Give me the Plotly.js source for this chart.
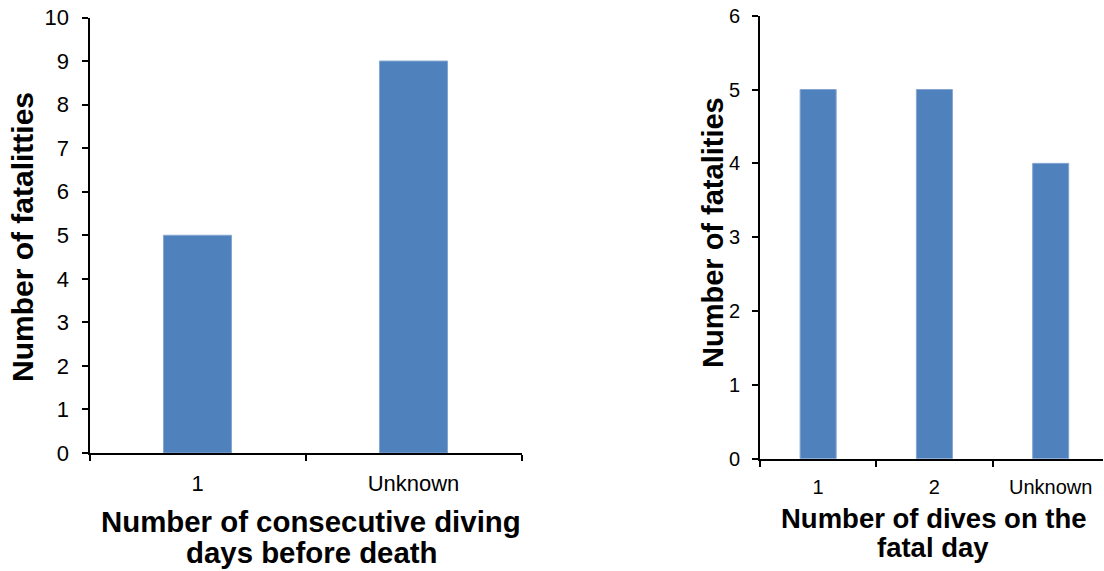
<!DOCTYPE html>
<html>
<head>
<meta charset="utf-8">
<script src="https://cdn.plot.ly/plotly-3.0.1.min.js"></script>
<style>html,body{margin:0;padding:0;background:#fff;}#chart{width:1104px;height:571px;}</style>
</head>
<body>
<div id="chart"></div>
<script>
const leftCategories = ["1", "Unknown"];
const leftValues = [5, 9];
const leftYTicks = [0, 1, 2, 3, 4, 5, 6, 7, 8, 9, 10];
const leftXTitleLines = ["Number of consecutive diving", "days before death"];
const leftYTitle = "Number of fatalitties";

const rightCategories = ["1", "2", "Unknown"];
const rightValues = [5, 5, 4];
const rightYTicks = [0, 1, 2, 3, 4, 5, 6];
const rightXTitleLines = ["Number of dives on the", "fatal day"];
const rightYTitle = "Number of fatalities";

const W = 1104, H = 571;
const FONT = '"Liberation Sans", Arial, sans-serif';
const barColor = '#4F81BD';

const traces = [
  {type:'bar', x:leftCategories, y:leftValues, xaxis:'x', yaxis:'y', width:0.315,
   marker:{color:barColor, line:{color:'#86A6D0', width:1}}, hoverinfo:'x+y'},
  {type:'bar', x:rightCategories, y:rightValues, xaxis:'x2', yaxis:'y2', width:0.31,
   marker:{color:barColor, line:{color:'#86A6D0', width:1}}, hoverinfo:'x+y'}
];

const axBase = {showgrid:false, zeroline:false, showline:true, linecolor:'#000', linewidth:2,
  ticks:'outside', ticklen:6, tickwidth:2, tickcolor:'#000', fixedrange:true};

function titleLine(text, xc, ymid, size, angle) {
  return {text:'<b>'+text+'</b>', xref:'paper', yref:'paper', x:xc/W, y:(H-ymid)/H,
    xanchor:'center', yanchor:'middle', textangle:angle||0, showarrow:false,
    font:{size:size, family:FONT, color:'#000'}};
}

const layout = {
  width:W, height:H, margin:{l:0,r:0,t:0,b:0}, showlegend:false,
  paper_bgcolor:'#fff', plot_bgcolor:'#fff',
  font:{family:FONT, color:'#000'},
  xaxis: Object.assign({}, axBase, {domain:[89.5/W, 521.5/W], type:'category', range:[-0.5,1.5],
    tickson:'boundaries', tickfont:{size:22, family:FONT}, ticklabelstandoff:10, anchor:'y'}),
  yaxis: Object.assign({}, axBase, {domain:[(H-453)/H, (H-17.5)/H], range:[0,10], tickvals:leftYTicks,
    tickfont:{size:22, family:FONT}, ticklabelstandoff:8, anchor:'x'}),
  xaxis2: Object.assign({}, axBase, {domain:[760/W, 1103/W], type:'category', range:[-0.5,2.45],
    tickson:'boundaries', tickfont:{size:20, family:FONT}, ticklabelstandoff:9, anchor:'y2'}),
  yaxis2: Object.assign({}, axBase, {domain:[(H-458.7)/H, (H-15.7)/H], range:[0,6], tickvals:rightYTicks,
    tickfont:{size:20, family:FONT}, ticklabelstandoff:8, anchor:'x2'}),
  annotations: [
    titleLine(leftXTitleLines[0], 311, 521, 29.4),
    titleLine(leftXTitleLines[1], 312, 552, 29.4),
    titleLine(leftYTitle, 23, 237, 30, -90),
    titleLine(rightXTitleLines[0], 934, 518, 27.5),
    titleLine(rightXTitleLines[1], 933, 547, 27.5),
    titleLine(rightYTitle, 713, 233, 29, -90)
  ]
};

Plotly.newPlot('chart', traces, layout, {displayModeBar:false, staticPlot:true});
</script>
</body>
</html>
